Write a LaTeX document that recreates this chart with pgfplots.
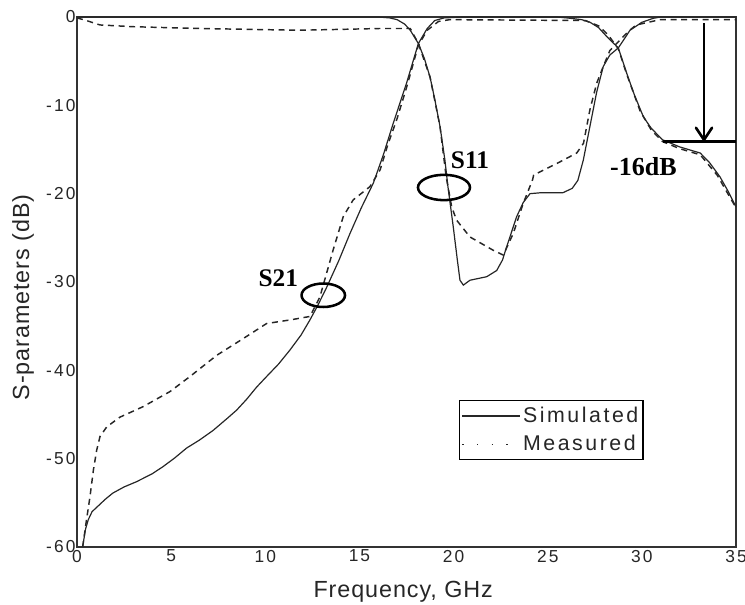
\documentclass[border=0pt]{standalone}
\usepackage{fontspec}
\setmainfont{Liberation Sans}
\newfontfamily\lsans[LetterSpace=12]{Liberation Sans}
\newfontfamily\lsansb[LetterSpace=4]{Liberation Sans}
\newfontfamily\tnr{Liberation Serif}
\usepackage{pgfplots}
\pgfplotsset{compat=1.18}
\usetikzlibrary{arrows.meta}
\begin{document}
\begin{tikzpicture}
\path[use as bounding box] (-57.75pt,-42.75pt) rectangle (501pt,410.25pt);
\begin{axis}[at={(0,0)}, anchor=south west, scale only axis,
  width=494.25pt, height=397.5pt,
  xmin=0, xmax=35, ymin=-60, ymax=0,
  xtick={0,5,...,35}, ytick={-60,-50,...,0},
  major tick length=0pt,
  axis line style={line width=1.2pt, black!80},
  /pgf/number format/assume math mode=true,
  tick label style={font=\fontsize{13}{15}\lsans, text=black!85},
  xticklabel style={inner sep=1pt, yshift=-1pt},
  yticklabel style={inner sep=1pt, xshift=0pt},
  xlabel={Frequency, GHz}, ylabel={S-parameters (dB)},
  label style={font=\fontsize{17.5}{20}\lsansb, text=black!85},
  xlabel style={at={(axis description cs:0.495,0)}, anchor=center, yshift=-33.5pt},
  ylabel style={at={(axis description cs:0,0.471)}, anchor=center, yshift=40.5pt},
  clip=false,
  legend style={at={(axis description cs:0.5797,0.2774)}, anchor=north west,
    draw=black, line width=1pt, font=\fontsize{16}{19}\lsans,
    inner xsep=1.5pt, inner ysep=3pt, row sep=4pt, text=black!85},
  legend cell align=left,
  legend image code/.code={\draw[#1] (0pt,0pt) -- (43pt,0pt);},
]
% Simulated S21
\addplot[forget plot, black!85, line width=0.9pt] coordinates {
(0.3,-60) (0.45,-58) (0.6,-56.9) (0.8,-56.0) (1.05,-55.5) (1.5,-54.6) (1.9,-53.9) (2.5,-53.2) (3.17,-52.6) (4.0,-51.7) (4.57,-50.9) (5.2,-49.9) (5.82,-48.8) (6.5,-47.9) (7.23,-46.8) (8.0,-45.4) (8.48,-44.5) (9.0,-43.3) (9.54,-41.9) (10.07,-40.7) (10.7,-39.3) (11.31,-37.7) (11.9,-36.0) (12.37,-34.3) (12.8,-32.6) (13.26,-30.6) (13.9,-27.6) (14.5,-24.5) (15.1,-21.6) (15.74,-18.8) (16.27,-15.6) (16.8,-12) (17.5,-7.5) (18.13,-3.0) (18.6,-1.3) (19.0,-0.4) (19.5,-0.1) (20.5,0) (25.5,0) (26,-0.1) (26.8,-0.3) (27.25,-0.6) (27.7,-1.2) (28.13,-2.2) (28.75,-3.5) (29.2,-6.4) (29.6,-8.8) (30.08,-11.3) (30.5,-12.6) (31.1,-13.9) (32,-14.7) (33.1,-15.4) (33.6,-16.5) (34.15,-18.1) (34.6,-19.8) (35,-21.5)};
% Simulated S11
\addplot[forget plot, black!85, line width=0.9pt] coordinates {
(0,0) (16,0) (16.6,-0.1) (17,-0.3) (17.4,-0.8) (17.7,-1.5) (18.13,-3.0) (18.45,-4.7) (18.75,-6.8) (19.0,-9.3) (19.28,-12.4) (19.54,-16.2) (19.7,-19.2) (19.98,-23.7) (20.2,-27.5) (20.34,-29.8) (20.52,-30.35) (20.87,-29.8) (21.76,-29.4) (22.29,-28.7) (22.6,-27.5) (22.82,-26.0) (23.35,-22.6) (23.7,-21) (24.06,-20.0) (24.6,-19.9) (25.8,-19.9) (26.3,-19.4) (26.6,-18.5) (26.89,-16.2) (27.24,-12.4) (27.6,-8.5) (27.95,-5.6) (28.3,-4.3) (28.75,-3.5) (29.37,-1.5) (30,-0.6) (30.6,-0.15) (31,0) (35,0)};
% Measured S21
\addplot[forget plot, black!85, line width=1.1pt, dash pattern=on 4.5pt off 3.5pt] coordinates {
(0.3,-60) (0.5,-57) (0.69,-54.3) (0.87,-51.3) (1.05,-49) (1.22,-47.5) (1.58,-46.4) (2.28,-45.3) (3.52,-44.1) (4.94,-42.4) (6.0,-40.7) (7.42,-38.3) (8.83,-36.4) (10.07,-34.7) (11.3,-34.3) (12.37,-33.9) (12.9,-31.7) (13.6,-26.4) (14.14,-22.6) (14.67,-20.7) (15.56,-19.2) (16.1,-17.3) (16.5,-14.5) (17,-11.5) (17.5,-8) (18.13,-3.2) (18.6,-1.5) (19.2,-0.5) (19.8,-0.3) (27,-0.4) (27.7,-1.0) (28.2,-2.0) (28.75,-3.6) (29.2,-6.5) (29.9,-10.6) (30.5,-12.8) (31.1,-14.1) (32,-14.9) (33.1,-15.6) (34,-17.9) (35,-21.6)};
% Measured S11
\addplot[forget plot, black!85, line width=1.1pt, dash pattern=on 4.5pt off 3.5pt] coordinates {
(0,-0.1) (0.5,-0.4) (1.22,-0.9) (3,-1.1) (6.5,-1.3) (11.8,-1.5) (14,-1.4) (16.1,-1.3) (17.7,-1.3) (18.13,-3.0) (18.75,-6.8) (19.28,-12.4) (19.6,-18) (19.9,-21.5) (20.16,-23) (20.87,-24.9) (22.1,-26.4) (22.64,-26.95) (23.17,-24.5) (23.7,-21.1) (24.2,-18.4) (24.25,-17.9) (25.47,-16.6) (26.54,-15.4) (26.9,-14.3) (27.24,-10.5) (27.6,-7.5) (27.95,-5.6) (28.3,-3.8) (28.75,-2.8) (29.3,-1.6) (29.7,-0.9) (30.97,-0.3) (35,-0.3)};
\addlegendimage{black!85, line width=0.9pt}
\addlegendentry{Simulated}
\addlegendimage{black!85, line width=1pt, dash pattern=on 1pt off 10pt}
\addlegendentry{Measured}
% annotations
\node[font=\fontsize{19}{22}\tnr\bfseries] at (axis cs:10.69,-29.6) {S21};
\draw[line width=1.9pt] (axis cs:13.08,-31.5) ellipse [x radius=16.3pt, y radius=8.8pt];
\node[font=\fontsize{19}{22}\tnr\bfseries] at (axis cs:20.87,-16.2) {S11};
\draw[line width=1.9pt] (axis cs:19.49,-19.3) ellipse [x radius=19.5pt, y radius=9.5pt];
\node[font=\fontsize{19.5}{22}\tnr\bfseries] at (axis cs:30.08,-16.95) {-16dB};
\fill[black] ([xshift=-1.1pt]axis cs:33.3,-0.7) rectangle ([xshift=1.1pt]axis cs:33.3,-13.7);
\draw[line width=2pt, line cap=round, line join=round] ([xshift=-6pt,yshift=9pt]axis cs:33.3,-13.9) -- (axis cs:33.3,-13.9) -- ([xshift=6pt,yshift=9pt]axis cs:33.3,-13.9);
\draw[line width=1.8pt] (axis cs:31.14,-14.1) -- (axis cs:35,-14.1);
\end{axis}
\end{tikzpicture}
\end{document}
